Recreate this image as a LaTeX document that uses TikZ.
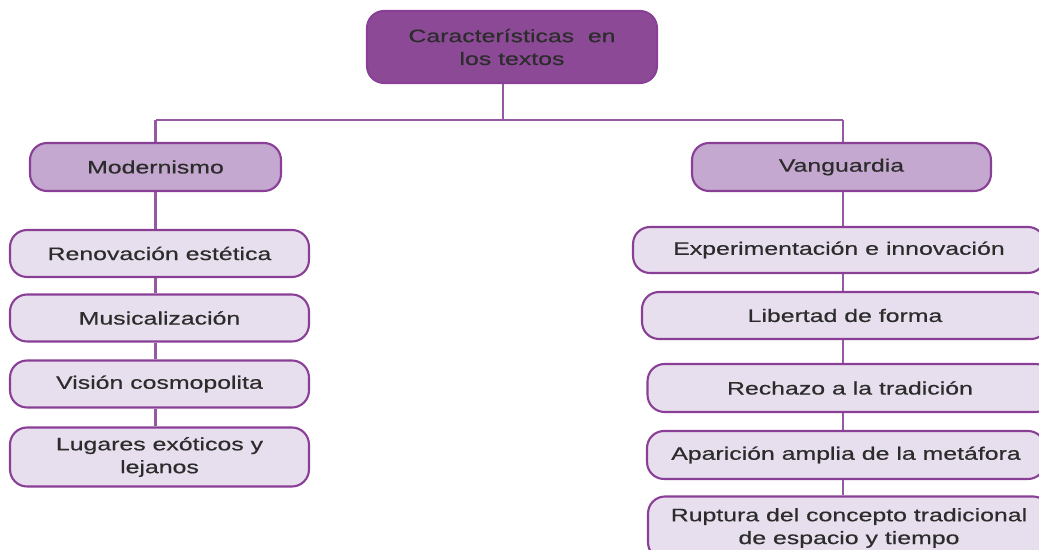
\documentclass[tikz,border=0pt]{standalone}
\usepackage{fontspec}
\setmainfont{Liberation Sans}[FakeStretch=1.38,FakeBold=0.5]
\usetikzlibrary{positioning}
\definecolor{moradoOsc}{HTML}{8C4A96}
\definecolor{moradoMed}{HTML}{C4A8CF}
\definecolor{moradoCla}{HTML}{E8DFEE}
\definecolor{borde}{HTML}{8A3F97}
\definecolor{linea}{HTML}{9558A2}
\definecolor{texto}{HTML}{2C2C2C}

\begin{document}
\begin{tikzpicture}[x=0.02cm,y=-0.02cm,
  caja/.style={draw=borde, line width=1.2pt, rounded corners=0.34cm, inner sep=0pt,
    align=center, text=texto, font=\fontsize{10.25}{13}\selectfont},
  titulo/.style={caja, fill=moradoOsc, minimum width=5.8cm, minimum height=1.44cm},
  rama/.style={caja, fill=moradoMed, minimum height=0.96cm},
  hoja/.style={caja, fill=moradoCla, minimum height=0.94cm},
  conector/.style={draw=linea, line width=1.3pt}]
\clip (0,0) rectangle (1039,550);
\useasboundingbox (0,0) rectangle (1039,550);

\node[titulo] (tit) at (512,47) {Características~~en\\los textos};

\node[rama, minimum width=5.02cm] (mod) at (155.5,167) {Modernismo};
\node[rama, minimum width=5.98cm] (van) at (841.5,167) {Vanguardia};

% modernismo
\node[hoja, minimum width=5.98cm] (ren) at (159.5,253.5) {Renovación estética};
\node[hoja, minimum width=5.98cm] (mus) at (159.5,318) {Musicalización};
\node[hoja, minimum width=5.98cm] (vis) at (159.5,384) {Visión cosmopolita};
\node[hoja, minimum width=5.98cm, minimum height=1.18cm] (lug) at (159.5,457) {Lugares exóticos y\\lejanos};

% vanguardia
\node[hoja, minimum width=8.24cm, minimum height=0.92cm] (exp) at (839,250) {Experimentación e innovación};
\node[hoja, minimum width=8.12cm] (lib) at (845,315.5) {Libertad de forma};
\node[hoja, minimum width=8.1cm, minimum height=0.96cm] (rec) at (850,388) {Rechazo a la tradición};
\node[hoja, minimum width=7.96cm, minimum height=0.96cm] (apa) at (846,455) {Aparición amplia de la metáfora};
\node[hoja, minimum width=8.04cm, minimum height=1.26cm] (rup) at (849,528) {Ruptura del concepto tradicional\\de espacio y tiempo};

\coordinate (busM) at (503,120);
\coordinate (busL) at (155.5,120);
\coordinate (busR) at (843,120);
\draw[conector] (tit.south -| busM) -- (busM);
\draw[conector] (busL) -- (busR);
\draw[conector] (busL) -- (mod.north);
\draw[conector] (busR) -- (busR |- van.north);

\draw[conector] (mod.south) -- (mod.south |- ren.north);
\draw[conector] (mod.south |- ren.south) -- (mod.south |- mus.north);
\draw[conector] (mod.south |- mus.south) -- (mod.south |- vis.north);
\draw[conector] (mod.south |- vis.south) -- (mod.south |- lug.north);

\draw[conector] (busR |- van.south) -- (busR |- exp.north);
\draw[conector] (busR |- exp.south) -- (busR |- lib.north);
\draw[conector] (busR |- lib.south) -- (busR |- rec.north);
\draw[conector] (busR |- rec.south) -- (busR |- apa.north);
\draw[conector] (busR |- apa.south) -- (busR |- rup.north);
\end{tikzpicture}
\end{document}
